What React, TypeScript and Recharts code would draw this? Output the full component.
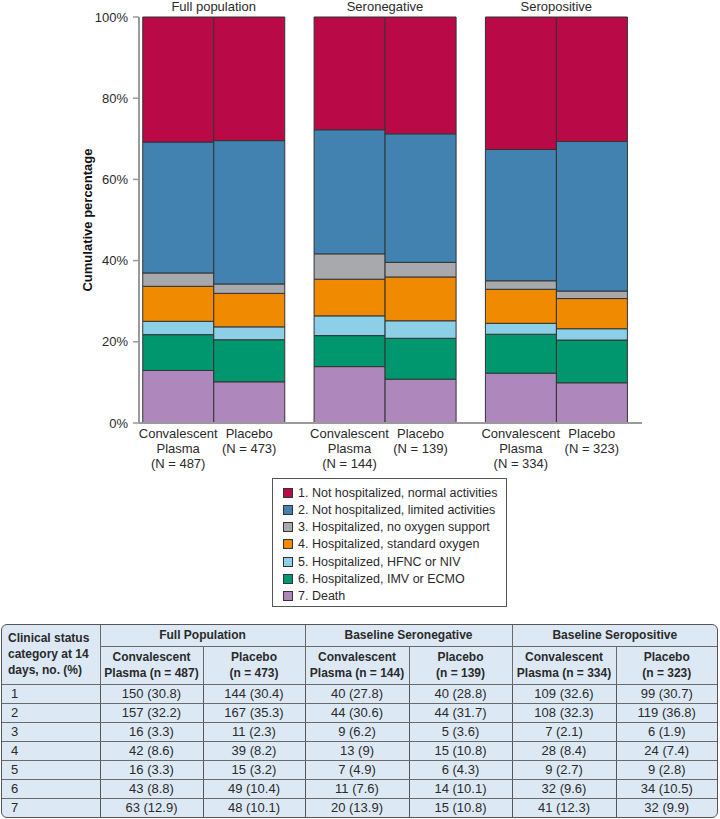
import { BarChart, Bar, XAxis, YAxis, Label } from "recharts";

const groups = ["Full population", "Seronegative", "Seropositive"];
const tableGroups = ["Full Population", "Baseline Seronegative", "Baseline Seropositive"];
const cpN = [487, 144, 334];
const plN = [473, 139, 323];

const statusIds = ["1", "2", "3", "4", "5", "6", "7"];
const statusLabels = [
  "1. Not hospitalized, normal activities",
  "2. Not hospitalized, limited activities",
  "3. Hospitalized, no oxygen support",
  "4. Hospitalized, standard oxygen",
  "5. Hospitalized, HFNC or NIV",
  "6. Hospitalized, IMV or ECMO",
  "7. Death",
];
const statusColors = ["#b90a47", "#4282b0", "#a8a9ac", "#f08a00", "#8ccfe6", "#00976e", "#ae88bd"];

// counts per status 1..7
const fullCp = [150, 157, 16, 42, 16, 43, 63];
const fullPl = [144, 167, 11, 39, 15, 49, 48];
const negCp = [40, 44, 9, 13, 7, 11, 20];
const negPl = [40, 44, 5, 15, 6, 14, 15];
const posCp = [109, 108, 7, 28, 9, 32, 41];
const posPl = [99, 119, 6, 24, 9, 34, 32];

// percentages as printed in the table
const fullCpPct = [30.8, 32.2, 3.3, 8.6, 3.3, 8.8, 12.9];
const fullPlPct = [30.4, 35.3, 2.3, 8.2, 3.2, 10.4, 10.1];
const negCpPct = [27.8, 30.6, 6.2, 9, 4.9, 7.6, 13.9];
const negPlPct = [28.8, 31.7, 3.6, 10.8, 4.3, 10.1, 10.8];
const posCpPct = [32.6, 32.3, 2.1, 8.4, 2.7, 9.6, 12.3];
const posPlPct = [30.7, 36.8, 1.9, 7.4, 2.8, 10.5, 9.9];

const yTicks = [0, 0.2, 0.4, 0.6, 0.8, 1];

const cpCounts = [fullCp, negCp, posCp];
const plCounts = [fullPl, negPl, posPl];
const tableCols = [
  [fullCp, fullCpPct],
  [fullPl, fullPlPct],
  [negCp, negCpPct],
  [negPl, negPlPct],
  [posCp, posCpPct],
  [posPl, posPlPct],
];

const data = groups.map((g, i) => {
  const row: Record<string, string | number> = { group: g };
  statusIds.forEach((id, j) => {
    row["cp" + id] = cpCounts[i][j];
    row["pl" + id] = plCounts[i][j];
  });
  return row;
});

const FONT = "'Liberation Sans', Arial, Helvetica, sans-serif";
const TXT = "#2a2a2a";
const AXIS = "#9a9a9a";

const BottomTick = (props: any) => {
  const { x, y, payload } = props;
  const i = payload.index;
  const off = 35.5;
  return (
    <g fontFamily={FONT} fontSize={13} fill={TXT}>
      <text x={x - off} y={y} textAnchor="middle" fill={TXT}>
        <tspan x={x - off} dy={6.5}>Convalescent</tspan>
        <tspan x={x - off} dy={15}>Plasma</tspan>
        <tspan x={x - off} dy={15}>{`(N = ${cpN[i]})`}</tspan>
      </text>
      <text x={x + off} y={y} textAnchor="middle" fill={TXT}>
        <tspan x={x + off} dy={6.5}>Placebo</tspan>
        <tspan x={x + off} dy={15}>{`(N = ${plN[i]})`}</tspan>
      </text>
    </g>
  );
};

const TopTick = (props: any) => {
  const { x, payload } = props;
  return (
    <text x={x} y={11} textAnchor="middle" fontFamily={FONT} fontSize={13} fill={TXT}>
      {payload.value}
    </text>
  );
};

const ids = [...statusIds].reverse();

const cellBorder = "1px solid #6a6a6a";
const thBase: React.CSSProperties = {
  fontWeight: "bold",
  fontSize: 12,
  textAlign: "center",
  borderLeft: cellBorder,
  borderBottom: cellBorder,
  padding: 0,
  lineHeight: "16px",
  whiteSpace: "nowrap",
};

const App = () => {
  return (
    <div style={{ position: "absolute", left: 0, top: 0, width: 720, height: 819, background: "#fff", fontFamily: FONT, color: TXT }}>
      <div style={{ position: "absolute", left: 0, top: 0 }}>
        <BarChart
          width={720}
          height={476}
          data={data}
          stackOffset="expand"
          barCategoryGap={14.75}
          barGap={0}
          margin={{ top: 0, right: 78, bottom: 8, left: 35 }}
        >
          <XAxis
            xAxisId="top"
            orientation="top"
            dataKey="group"
            height={17}
            padding={{ left: -11, right: 0 }}
            axisLine={false}
            tickLine={false}
            tick={<TopTick />}
          />
          <XAxis
            dataKey="group"
            height={45}
            padding={{ left: -11, right: 0 }}
            axisLine={{ stroke: AXIS, strokeWidth: 2 }}
            tickLine={false}
            tick={<BottomTick />}
          />
          <YAxis
            width={104}
            domain={[0, 1]}
            ticks={yTicks}
            tickFormatter={(v: number) => `${Math.round(v * 100)}%`}
            axisLine={{ stroke: AXIS, strokeWidth: 2 }}
            tickLine={{ stroke: AXIS, strokeWidth: 1.5 }}
            tickSize={6}
            tickMargin={5}
            tick={{ fontFamily: FONT, fontSize: 13, fill: TXT }}
          >
            <Label
              value="Cumulative percentage"
              angle={-90}
              position="center"
              style={{ fontFamily: FONT, fontSize: 13, fontWeight: "bold", fill: "#111" }}
            />
          </YAxis>
          {ids.map((id) => (
            <Bar
              key={"cp" + id}
              dataKey={"cp" + id}
              stackId="cp"
              fill={statusColors[Number(id) - 1]}
              stroke="#333"
              strokeWidth={1}
              isAnimationActive={false}
            />
          ))}
          {ids.map((id) => (
            <Bar
              key={"pl" + id}
              dataKey={"pl" + id}
              stackId="pl"
              fill={statusColors[Number(id) - 1]}
              stroke="#333"
              strokeWidth={1}
              isAnimationActive={false}
            />
          ))}
        </BarChart>
      </div>

      {/* legend */}
      <div
        style={{
          position: "absolute",
          left: 272,
          top: 478,
          width: 233,
          height: 127,
          border: "1px solid #555",
          fontSize: 12.5,
        }}
      >
        {statusLabels.map((s, i) => (
          <div key={s} style={{ position: "absolute", left: 10, top: 5 + i * 17.3, height: 17, display: "flex", alignItems: "center", whiteSpace: "nowrap" }}>
            <span style={{ display: "inline-block", width: 8, height: 8, background: statusColors[i], border: "1px solid #333", marginRight: 5 }} />
            <span>{s}</span>
          </div>
        ))}
      </div>

      {/* table */}
      <div
        style={{
          position: "absolute",
          left: 1,
          top: 624,
          width: 715,
          height: 192,
          border: "1.5px solid #555",
          borderRadius: 6,
          overflow: "hidden",
          background: "#dce9f5",
          fontSize: 13,
        }}
      >
        <table style={{ borderCollapse: "collapse", tableLayout: "fixed", width: 715, height: 192 }}>
          <colgroup>
            {[98, 103, 102, 104, 103, 104, 101].map((w, i) => (
              <col key={i} style={{ width: w }} />
            ))}
          </colgroup>
          <tbody>
            <tr style={{ height: 21 }}>
              <th rowSpan={2} style={{ ...thBase, borderLeft: "none", textAlign: "left", paddingLeft: 6 }}>
                Clinical status
                <br />
                category at 14
                <br />
                days, no. (%)
              </th>
              {tableGroups.map((g) => (
                <th key={g} colSpan={2} style={thBase}>
                  {g}
                </th>
              ))}
            </tr>
            <tr style={{ height: 38 }}>
              {tableGroups.map((g, i) => [
                <th key={g + "cp"} style={thBase}>
                  Convalescent
                  <br />
                  {`Plasma (n = ${cpN[i]})`}
                </th>,
                <th key={g + "pl"} style={thBase}>
                  Placebo
                  <br />
                  {`(n = ${plN[i]})`}
                </th>,
              ])}
            </tr>
            {statusIds.map((id, r) => (
              <tr key={id} style={{ height: 19 }}>
                <td style={{ paddingLeft: 9, borderBottom: r < 6 ? cellBorder : "none", lineHeight: "16px", padding: "0 0 0 9px" }}>{id}</td>
                {tableCols.map(([counts, pcts], c) => (
                  <td
                    key={c}
                    style={{
                      textAlign: "center",
                      borderLeft: "1.5px solid #555",
                      borderBottom: r < 6 ? cellBorder : "none",
                      lineHeight: "16px",
                      padding: 0,
                    }}
                  >
                    {`${counts[r]} (${pcts[r]})`}
                  </td>
                ))}
              </tr>
            ))}
          </tbody>
        </table>
      </div>
    </div>
  );
};

export default App;
